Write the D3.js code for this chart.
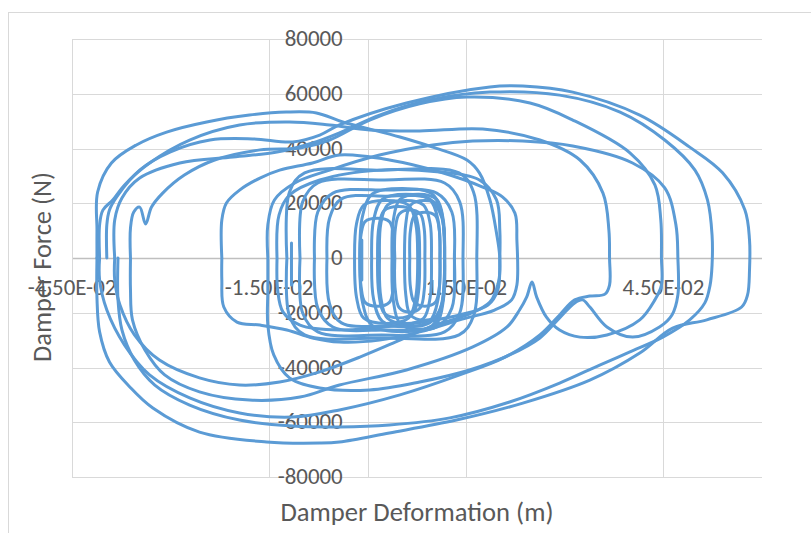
<!DOCTYPE html>
<html>
<head>
<meta charset="utf-8">
<script src="https://cdn.jsdelivr.net/npm/d3@7"></script>
<style>
body{margin:0;background:#fff;}
text{font-family:Calibri,Carlito,Lato,sans-serif;fill:#595959;}
</style>
</head>
<body>
<svg id="chart" width="811" height="533"></svg>
<script>
// tick values and labels
var xTicks=[-0.045,-0.015,0.015,0.045];
var xTickLabels=["-4.50E-02","-1.50E-02","1.50E-02","4.50E-02"];
var yTicks=[-80000,-60000,-40000,-20000,0,20000,40000,60000,80000];

// hysteresis loops, [deformation (m), force (N)]
var loopOuter=[[-0.0397,0],[-0.0397,12100],[-0.0393,17500],[-0.0382,22300],[-0.0347,32100],[-0.0301,38700],[-0.0240,43100],[-0.0175,43500],[-0.0114,42400],[-0.0073,44900],[-0.0043,48600],[0.0059,56600],[0.0186,62500],[0.0236,62800],[0.0312,60600],[0.0414,52200],[0.0490,40500],[0.0540,31100],[0.0574,17500],[0.0581,6600],[0.0581,-4400],[0.0578,-13500],[0.0569,-17900],[0.0516,-22600],[0.0464,-25600],[0.0414,-34700],[0.0338,-44600],[0.0236,-53000],[0.0135,-59200],[0.0033,-63900],[-0.0043,-67200],[-0.0073,-67600],[-0.0154,-67200],[-0.0256,-63600],[-0.0327,-54800],[-0.0362,-47100],[-0.0393,-38000],[-0.0408,-27000],[-0.0412,-14600],[-0.0412,0]];
var loopLeftA=[[-0.0412,0],[-0.0412,10200],[-0.0411,24100],[-0.0390,34700],[-0.0352,41300],[-0.0306,46000],[-0.0245,49700],[-0.0180,52200],[-0.0124,53300],[-0.0078,53000],[-0.0038,49700],[0.0049,44200],[0.0099,40500],[0.0151,35800],[0.0170,31100],[0.0186,21200],[0.0196,9100],[0.0201,0],[0.0199,-8800],[0.0186,-16100],[0.0151,-20800],[0.0099,-24800],[0.0049,-30000],[-0.0012,-36200],[-0.0073,-41600],[-0.0134,-45300],[-0.0195,-46400],[-0.0256,-43800],[-0.0317,-37300],[-0.0355,-28100],[-0.0377,-17200],[-0.0385,-8000],[-0.0385,0]];
var loopLeftB=[[-0.0385,0],[-0.0385,13900],[-0.0374,21900],[-0.0347,29200],[-0.0286,34700],[-0.0205,36900],[-0.0138,38700],[-0.0084,42000],[-0.0043,45700],[0.0018,52200],[0.0094,57700],[0.0186,60600],[0.0292,59500],[0.0384,53300],[0.0452,43100],[0.0498,32100],[0.0517,21200],[0.0524,8400],[0.0524,-2600],[0.0521,-9900],[0.0513,-16400],[0.0490,-22600],[0.0449,-28900],[0.0399,-34300],[0.0353,-39100],[0.0292,-45700],[0.0216,-52600],[0.0125,-58400],[0.0033,-61000],[-0.0043,-61700],[-0.0114,-61400],[-0.0195,-59200],[-0.0271,-53700],[-0.0324,-46400],[-0.0355,-37300],[-0.0374,-26300],[-0.0380,-15300],[-0.0380,0]];
var loopCusp=[[-0.0361,0],[-0.0361,11000],[-0.0356,16800],[-0.0347,18600],[-0.0338,12400],[-0.0329,18600],[-0.0312,23700],[-0.0279,30300],[-0.0233,35800],[-0.0164,39500],[-0.0103,40200],[-0.0058,43100],[0.0003,50400],[0.0079,56300],[0.0151,58800],[0.0247,56600],[0.0312,50400],[0.0399,38400],[0.0437,26700],[0.0446,13900],[0.0447,0],[0.0447,-9900],[0.0437,-15300],[0.0414,-22600],[0.0364,-28100],[0.0323,-28900],[0.0292,-26300],[0.0272,-21600],[0.0257,-14200],[0.0250,-8800],[0.0242,-14200],[0.0231,-19000],[0.0212,-25200],[0.0160,-32500],[0.0059,-40900],[-0.0043,-46400],[-0.0103,-50800],[-0.0180,-51900],[-0.0256,-48900],[-0.0309,-42700],[-0.0339,-33600],[-0.0358,-22600],[-0.0361,-11700],[-0.0361,0]];
var loopMid=[[-0.0408,0],[-0.0408,12100],[-0.0403,17500],[-0.0388,21200],[-0.0370,26700],[-0.0332,34700],[-0.0271,43100],[-0.0195,48600],[-0.0119,49700],[-0.0058,48600],[0.0003,46800],[0.0079,46400],[0.0175,47100],[0.0262,43100],[0.0323,35800],[0.0358,23700],[0.0367,10200],[0.0368,0],[0.0368,-9900],[0.0361,-13200],[0.0338,-13900],[0.0315,-15300],[0.0292,-20800],[0.0262,-28100],[0.0209,-36200],[0.0140,-42700],[0.0049,-50000],[-0.0043,-55500],[-0.0114,-58100],[-0.0195,-56600],[-0.0271,-51100],[-0.0332,-42700],[-0.0370,-31800],[-0.0397,-19000],[-0.0408,-8000],[-0.0408,0]];
var loopBump=[[-0.0152,0],[-0.0152,12100],[-0.0142,21200],[-0.0111,27400],[-0.0058,32100],[0.0018,37600],[0.0099,41300],[0.0160,42700],[0.0236,42700],[0.0312,40900],[0.0403,34700],[0.0452,25600],[0.0469,12100],[0.0472,0],[0.0472,-13500],[0.0463,-20800],[0.0444,-25200],[0.0403,-28900],[0.0364,-25200],[0.0338,-17900],[0.0327,-15300],[0.0315,-16400],[0.0292,-21900],[0.0262,-29200],[0.0216,-35400],[0.0155,-40900],[0.0079,-45300],[0.0003,-48200],[-0.0073,-47500],[-0.0119,-43800],[-0.0143,-35400],[-0.0152,-24500],[-0.0152,-11700],[-0.0152,0]];
var loopInnerA=[[-0.0222,0],[-0.0222,13900],[-0.0215,20100],[-0.0195,24800],[-0.0164,29200],[-0.0134,32100],[-0.0084,34700],[-0.0043,37600],[0.0033,35800],[0.0110,31400],[0.0175,25900],[0.0205,22300],[0.0224,16400],[0.0227,6600],[0.0227,-9900],[0.0219,-15300],[0.0193,-19000],[0.0140,-22600],[0.0079,-27000],[0.0018,-30000],[-0.0043,-30700],[-0.0084,-29200],[-0.0123,-26300],[-0.0164,-24500],[-0.0199,-23400],[-0.0219,-17900],[-0.0222,-8000],[-0.0222,0]];
var loopInnerB=[[-0.0138,0],[-0.0135,15700],[-0.0119,23000],[-0.0073,28500],[0.0018,32100],[0.0110,31400],[0.0170,28500],[0.0196,21200],[0.0201,10200],[0.0201,0],[0.0198,-11700],[0.0183,-17200],[0.0140,-20800],[0.0049,-24500],[-0.0043,-26300],[-0.0103,-24500],[-0.0129,-19700],[-0.0137,-11700],[-0.0138,0]];
var loopC1=[[-0.0123,0],[-0.0119,24100],[-0.0096,31100],[0.0021,32100],[0.0139,31100],[0.0161,24100],[0.0166,0],[0.0161,-21200],[0.0139,-28100],[0.0021,-29200],[-0.0096,-28100],[-0.0119,-21200],[-0.0123,0]];
var loopC2=[[-0.0103,0],[-0.0099,20500],[-0.0076,27400],[0.0021,28500],[0.0117,27400],[0.0140,20500],[0.0145,0],[0.0140,-20100],[0.0117,-27000],[0.0021,-28100],[-0.0076,-27000],[-0.0099,-20100],[-0.0103,0]];
var loopC3=[[-0.0081,0],[-0.0076,16800],[-0.0053,23700],[0.0026,24800],[0.0105,23700],[0.0128,16800],[0.0132,0],[0.0128,-18300],[0.0105,-25200],[0.0026,-26300],[-0.0053,-25200],[-0.0076,-18300],[-0.0081,0]];
var loopC4=[[-0.0062,0],[-0.0058,14600],[-0.0040,21600],[0.0027,22600],[0.0094,21600],[0.0113,14600],[0.0117,0],[0.0113,-16800],[0.0094,-23700],[0.0027,-24800],[-0.0040,-23700],[-0.0058,-16800],[-0.0062,0]];
var loopE1=[[-0.0012,0],[-0.0008,15200],[0.0007,23400],[0.0053,25400],[0.0098,23400],[0.0113,15200],[0.0117,0],[0.0113,-16100],[0.0098,-24700],[0.0053,-26900],[0.0007,-24700],[-0.0008,-16100],[-0.0012,0]];
var loopE2=[[0.0006,0],[0.0009,13900],[0.0022,21400],[0.0058,23300],[0.0094,21400],[0.0107,13900],[0.0110,0],[0.0107,-15100],[0.0094,-23100],[0.0058,-25200],[0.0022,-23100],[0.0009,-15100],[0.0006,0]];
var loopE3=[[0.0018,0],[0.0020,12600],[0.0030,19300],[0.0058,21000],[0.0085,19300],[0.0095,12600],[0.0097,0],[0.0095,-14400],[0.0085,-22000],[0.0058,-23900],[0.0030,-22000],[0.0020,-14400],[0.0018,0]];
var loopE4=[[0.0037,0],[0.0039,13900],[0.0049,21400],[0.0077,23300],[0.0105,21400],[0.0115,13900],[0.0117,0],[0.0115,-15600],[0.0105,-23900],[0.0077,-26000],[0.0049,-23900],[0.0039,-15600],[0.0037,0]];
var loopE5=[[0.0056,0],[0.0058,12600],[0.0065,19300],[0.0087,21000],[0.0108,19300],[0.0115,12600],[0.0117,0],[0.0115,-13600],[0.0108,-20800],[0.0087,-22700],[0.0065,-20800],[0.0058,-13600],[0.0056,0]];
var loopE6=[[-0.0012,0],[-0.0010,8800],[-0.0004,13300],[0.0015,14500],[0.0033,13300],[0.0039,8800],[0.0041,0],[0.0039,-10600],[0.0033,-16200],[0.0015,-17600],[-0.0004,-16200],[-0.0010,-10600],[-0.0012,0]];
var loopE7=[[0.0015,0],[0.0017,11300],[0.0025,17300],[0.0047,18800],[0.0069,17300],[0.0077,11300],[0.0079,0],[0.0077,-13100],[0.0069,-20100],[0.0047,-21900],[0.0025,-20100],[0.0017,-13100],[0.0015,0]];
var loopE8=[[0.0041,0],[0.0042,10600],[0.0048,16100],[0.0064,17500],[0.0080,16100],[0.0086,10600],[0.0087,0],[0.0086,-11800],[0.0080,-18200],[0.0064,-19800],[0.0048,-18200],[0.0042,-11800],[0.0041,0]];
var loopE9=[[0.0064,0],[0.0065,10000],[0.0071,15400],[0.0087,16700],[0.0103,15400],[0.0109,10000],[0.0110,0],[0.0109,-10600],[0.0103,-16200],[0.0087,-17600],[0.0071,-16200],[0.0065,-10600],[0.0064,0]];
var loopE10=[[-0.0020,0],[-0.0017,12600],[-0.0006,19300],[0.0028,21000],[0.0062,19300],[0.0073,12600],[0.0076,0],[0.0073,-14400],[0.0062,-22000],[0.0028,-23900],[-0.0006,-22000],[-0.0017,-14400],[-0.0020,0]];
var spikeRight=[[0.0132,1800],[0.0132,-8800]];
var spikeLeft=[[-0.0116,5500],[-0.0116,-9900]];
var spikeCenter=[[-0.0009,6600],[-0.0009,-8000]];

var loops=[loopOuter,loopLeftA,loopLeftB,loopCusp,loopMid,loopBump,loopInnerA,loopInnerB,
  loopC1,loopC2,loopC3,loopC4,loopE1,loopE2,loopE3,loopE4,loopE5,loopE6,loopE7,loopE8,loopE9,loopE10,
  spikeRight,spikeLeft,spikeCenter];

var svg=d3.select("#chart");
svg.append("rect").attr("width",811).attr("height",533).attr("fill","#fff");
// chart area border
svg.append("rect").attr("x",8.5).attr("y",12.5).attr("width",830).attr("height",540)
  .attr("fill","none").attr("stroke","#d9d9d9");

var x=d3.scaleLinear().domain([-0.045,0.06]).range([72,762]);
var y=d3.scaleLinear().domain([-80000,80000]).range([477,39]);

// gridlines
svg.append("g").selectAll("line").data(yTicks).join("line")
  .attr("x1",x(-0.045)).attr("x2",x(0.06))
  .attr("y1",function(d){return Math.round(y(d))+0.5;})
  .attr("y2",function(d){return Math.round(y(d))+0.5;})
  .attr("stroke",function(d){return d==0?"#bfbfbf":"#d9d9d9";})
  .attr("stroke-width",function(d){return d==0?1.3:1;});
svg.append("g").selectAll("line").data(xTicks.concat([0])).join("line")
  .attr("y1",y(-80000)).attr("y2",y(80000))
  .attr("x1",function(d){return Math.round(x(d))+0.5;})
  .attr("x2",function(d){return Math.round(x(d))+0.5;})
  .attr("stroke","#d9d9d9");

// fit a text to a target width by scaling its font size
function fitWidth(sel,w){
  var n=sel.node(),fs=parseFloat(sel.attr("font-size"));
  sel.attr("font-size",(fs*w/n.getComputedTextLength()).toFixed(1)+"px");
}

// tick labels (series is drawn over them, like Excel)
var xl=svg.append("g").selectAll("text").data(xTicks).join("text")
  .attr("x",function(d){return x(d);}).attr("y",y(0)+37)
  .attr("text-anchor","middle").attr("font-size","20px")
  .text(function(d,i){return xTickLabels[i];});
var yl=svg.append("g").selectAll("text").data(yTicks).join("text")
  .attr("x",x(0)-25).attr("y",function(d){return y(d)+7;})
  .attr("text-anchor","end").attr("font-size","20px")
  .text(function(d){return d;});
var probe=yl.filter(function(d){return d==80000;});
var tickFs=20*58/probe.node().getComputedTextLength();
xl.attr("font-size",tickFs.toFixed(1)+"px");
yl.attr("font-size",tickFs.toFixed(1)+"px");

// axis titles
var xt=svg.append("text").attr("x",417).attr("y",521).attr("text-anchor","middle")
  .attr("font-size","21px").text("Damper Deformation (m)");
fitWidth(xt,273);
var yt=svg.append("text").attr("transform","translate(51,267) rotate(-90)")
  .attr("text-anchor","middle").attr("font-size","21px").text("Damper Force (N)");
fitWidth(yt,190);

var line=d3.line().x(function(d){return x(d[0]);}).y(function(d){return y(d[1]);})
  .curve(d3.curveCatmullRom.alpha(0.5));
svg.append("g").selectAll("path").data(loops).join("path")
  .attr("d",line).attr("fill","none").attr("stroke","#5b9bd5")
  .attr("stroke-width",3).attr("stroke-linejoin","round").attr("stroke-linecap","round");
</script>
</body>
</html>
